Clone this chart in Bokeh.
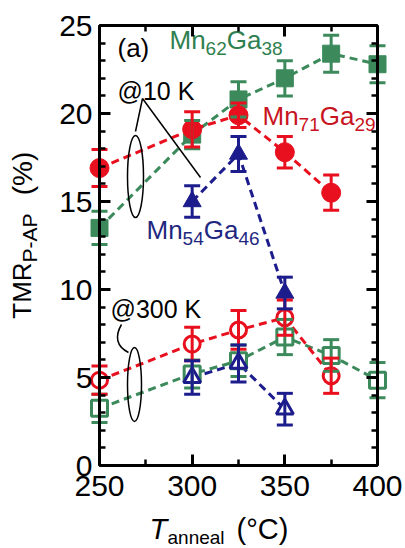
import math
from bokeh.plotting import figure
from bokeh.models import (Range1d, LinearAxis, Whisker, TeeHead, FixedTicker,
                          ColumnDataSource, SingleIntervalTicker)
from bokeh.core.properties import value
from bokeh.embed import file_html
from bokeh.resources import INLINE

# ---------------- data ----------------
t_62_10K = [250, 300, 325, 350, 375, 400]
tmr_62_10K = [13.5, 18.8, 20.8, 22.0, 23.4, 22.8]
err_62_10K = [0.95, 0.8, 1.0, 1.0, 1.05, 1.05]

t_71_10K = [250, 300, 325, 350, 375]
tmr_71_10K = [16.9, 19.1, 19.9, 17.8, 15.5]
err_71_10K = [1.05, 1.0, 0.7, 0.9, 1.0]

t_54_10K = [300, 325, 350]
tmr_54_10K = [15.0, 17.7, 9.8]
err_54_10K = [0.9, 1.0, 0.9]

t_62_300K = [250, 300, 325, 350, 375, 400]
tmr_62_300K = [3.25, 5.2, 5.95, 7.3, 6.25, 4.85]
err_62_300K = [0.8, 0.8, 0.9, 1.0, 0.9, 1.0]

t_71_300K = [250, 300, 325, 350, 375]
tmr_71_300K = [4.85, 6.9, 7.7, 8.4, 5.1]
err_71_300K = [0.8, 0.95, 1.1, 1.0, 1.0]

t_54_300K = [300, 325, 350]
tmr_54_300K = [5.0, 5.8, 3.2]
err_54_300K = [0.95, 1.05, 0.9]

x_min, x_max, x_step = 250, 400, 50
y_min, y_max, y_step = 0, 25, 5

GREEN = "#3c8a5c"
RED = "#e8101e"
BLUE = "#1c1c8c"
GREEN_T = "#2f8050"
RED_T = "#c8141e"
BLUE_T = "#1f2880"
FONT = "Liberation Sans"

# ---------------- geometry: frame covers whole canvas ----------------
W, H = 405, 548
AX_L, AX_R, AX_T, AX_B = 99, 377, 25, 465
sx = (AX_R - AX_L) / (x_max - x_min)
sy = (AX_B - AX_T) / (y_max - y_min)
X0 = x_min - AX_L / sx
X1 = x_max + (W - AX_R) / sx
Y0 = y_min - (H - AX_B) / sy
Y1 = y_max + AX_T / sy


def dxp(px):
    return X0 + px / sx


def dyp(py):
    return Y0 + (H - py) / sy


p = figure(width=W, height=H, x_range=Range1d(X0, X1), y_range=Range1d(Y0, Y1),
           output_backend="svg", toolbar_location=None,
           x_axis_location=None, y_axis_location=None,
           min_border_left=0, min_border_right=0, min_border_top=0, min_border_bottom=0)
p.outline_line_color = None
p.grid.visible = False
p.background_fill_color = "white"
p.border_fill_color = "white"


def make_axis(interval, minor, loc, bounds, show_labels, standoff):
    ax = LinearAxis(ticker=SingleIntervalTicker(interval=interval, num_minor_ticks=minor),
                    fixed_location=loc, bounds=bounds)
    ax.axis_line_width = 3
    ax.axis_line_color = "black"
    ax.major_tick_in = 11
    ax.major_tick_out = 0
    ax.minor_tick_in = 6
    ax.minor_tick_out = 0
    ax.major_tick_line_width = 3
    ax.minor_tick_line_width = 2.5
    ax.major_label_text_font = FONT
    ax.major_label_text_color = "black"
    ax.major_label_text_font_size = "30px" if show_labels else "0px"
    ax.major_label_standoff = standoff
    return ax


p.add_layout(make_axis(y_step, 5, x_min, (y_min, y_max), True, 7), "left")
p.add_layout(make_axis(y_step, 5, x_max, (y_min, y_max), False, 0), "right")
p.add_layout(make_axis(x_step, 2, y_min, (x_min, x_max), True, 10), "below")
p.add_layout(make_axis(x_step, 2, y_max, (x_min, x_max), False, 0), "above")

# ---------------- series ----------------
series = [
    (t_62_10K, tmr_62_10K, err_62_10K, GREEN, "square", True, 17),
    (t_62_300K, tmr_62_300K, err_62_300K, GREEN, "square", False, 16),
    (t_71_10K, tmr_71_10K, err_71_10K, RED, "circle", True, 19),
    (t_71_300K, tmr_71_300K, err_71_300K, RED, "circle", False, 16),
    (t_54_10K, tmr_54_10K, err_54_10K, BLUE, "triangle", True, 18),
    (t_54_300K, tmr_54_300K, err_54_300K, BLUE, "triangle", False, 17),
]

for xs, ys, es, c, m, filled, size in series:
    p.line(xs, ys, line_color=c, line_width=3, line_dash="8 5")

for xs, ys, es, c, m, filled, size in series:
    src = ColumnDataSource(dict(x=xs, y=ys,
                                upper=[a + b for a, b in zip(ys, es)],
                                lower=[a - b for a, b in zip(ys, es)]))
    w = Whisker(source=src, base="x", upper="upper", lower="lower", dimension="height",
                line_color=c, line_width=3, level="glyph",
                upper_head=TeeHead(size=16, line_color=c, line_width=3),
                lower_head=TeeHead(size=16, line_color=c, line_width=3))
    p.add_layout(w)
    if filled:
        p.scatter(x="x", y="y", source=src, marker=m, size=size,
                  fill_color=c, line_color=c, line_width=1)
    else:
        p.scatter(x="x", y="y", source=src, marker=m, size=size,
                  fill_color="white", line_color=c, line_width=3)

# ---------------- text helpers ----------------
WID = {"M": .833, "n": .556, "G": .778, "a": .556, "e": .556, "l": .222, "T": .611,
       "R": .722, "P": .667, "A": .667, "-": .333, " ": .278, "(": .333, ")": .333,
       "%": .889, "°": .4, "C": .722, "@": 1.015, "K": .667}


def tw(s, size):
    return sum(WID.get(ch, .556) for ch in s) * size


def put(txt, px, py, size, color, style="normal"):
    # (px, py): start of the text baseline, in canvas pixels
    p.text(x=[dxp(px)], y=[dyp(py - 0.36 * size)], text=[txt],
           text_font=value(FONT), text_font_size=value(f"{size}px"),
           text_font_style=style, text_color=color,
           text_align="left", text_baseline="middle")


def rich(parts, px, py, color):
    off = 0.0
    for txt, size, drop, st in parts:
        put(txt, px + off, py + drop, size, color, st)
        off += tw(txt, size)


def vertical_piece(txt, base_px, top_py, bottom_py, size):
    # a title piece drawn by an invisible left axis: the label is centred on its bounds
    ax = LinearAxis(ticker=FixedTicker(ticks=[]), fixed_location=dxp(base_px),
                    bounds=(dyp(bottom_py), dyp(top_py)))
    ax.axis_line_color = None
    ax.major_tick_line_color = None
    ax.minor_tick_line_color = None
    ax.major_label_text_font_size = "0px"
    ax.axis_label = txt
    ax.axis_label_text_font = FONT
    ax.axis_label_text_font_size = f"{size}px"
    ax.axis_label_text_font_style = "normal"
    ax.axis_label_text_color = "black"
    ax.axis_label_standoff = 0
    p.add_layout(ax, "left")


# series labels
rich([("Mn", 26, 0, "normal"), ("62", 19, 6, "normal"), ("Ga", 26, 0, "normal"),
      ("38", 19, 6, "normal")], 169, 49, GREEN_T)
rich([("Mn", 26, 0, "normal"), ("71", 19, 6, "normal"), ("Ga", 26, 0, "normal"),
      ("29", 19, 6, "normal")], 262, 125, RED_T)
rich([("Mn", 26, 0, "normal"), ("54", 19, 6, "normal"), ("Ga", 26, 0, "normal"),
      ("46", 19, 6, "normal")], 146, 239, BLUE_T)

put("(a)", 117, 57, 26, "black")
put("@10 K", 117, 99, 25, "black")
put("@300 K", 110, 317, 25, "black")

# x-axis title
put("T", 149, 539, 29, "black", "italic")
put("anneal", 167, 544, 19, "black")
put("(°C)", 236, 539, 29, "black")

# y-axis title (rotated, reading upward), built from three label pieces
vertical_piece("TMR", 36, 262, 318, 26)
vertical_piece("P-AP", 40, 213, 262, 21)
vertical_piece("(%)", 37, 150, 196, 28)

# ---------------- annotation ellipses / leader lines ----------------
p.ellipse(x=[dxp(135)], y=[dyp(176)], width=[16], height=[82],
          width_units="screen", height_units="screen",
          fill_color=None, line_color="black", line_width=1.5)
p.ellipse(x=[dxp(134)], y=[dyp(384)], width=[14], height=[74],
          width_units="screen", height_units="screen",
          fill_color=None, line_color="black", line_width=1.5)
p.segment(x0=[dxp(142), dxp(142)], y0=[dyp(98), dyp(98)],
          x1=[dxp(135), dxp(200)], y1=[dyp(131), dyp(177)],
          line_color="black", line_width=1.5)
p.bezier(x0=[dxp(121)], y0=[dyp(324)], x1=[dxp(128)], y1=[dyp(352)],
         cx0=[dxp(114)], cy0=[dyp(336)], cx1=[dxp(116)], cy1=[dyp(346)],
         line_color="black", line_width=1.5)

open("out.html", "w").write(file_html(p, INLINE))
